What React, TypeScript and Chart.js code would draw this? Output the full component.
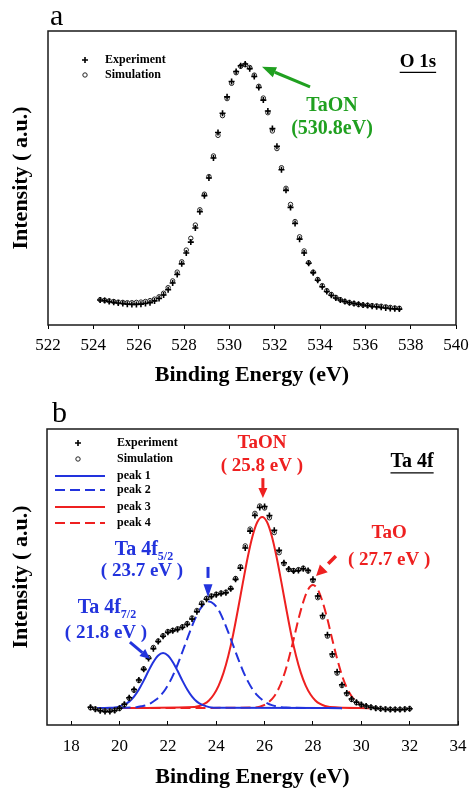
import React, { useEffect, useRef } from "react";
import { Chart, registerables } from "chart.js";

Chart.register(...registerables);

const FONT = '"Liberation Serif", "Times New Roman", serif';
Chart.defaults.font.family = FONT;

// ---------- Panel a : O 1s ----------
const xTicksA = [522, 524, 526, 528, 530, 532, 534, 536, 538, 540];
const energyA = [
  524.3, 524.5, 524.7, 524.9, 525.1, 525.3, 525.5, 525.7, 525.9, 526.1, 526.3, 526.5, 526.7, 526.9,
  527.1, 527.3, 527.5, 527.7, 527.9, 528.1, 528.3, 528.5, 528.7, 528.9, 529.1, 529.3, 529.5, 529.7,
  529.9, 530.1, 530.3, 530.5, 530.7, 530.9, 531.1, 531.3, 531.5, 531.7, 531.9, 532.1, 532.3, 532.5,
  532.7, 532.9, 533.1, 533.3, 533.5, 533.7, 533.9, 534.1, 534.3, 534.5, 534.7, 534.9, 535.1, 535.3,
  535.5, 535.7, 535.9, 536.1, 536.3, 536.5, 536.7, 536.9, 537.1, 537.3, 537.5,
];
const experimentA = [
  0.085, 0.083, 0.08, 0.077, 0.075, 0.073, 0.071, 0.07, 0.07, 0.071, 0.073, 0.076, 0.082, 0.09,
  0.102, 0.12, 0.143, 0.172, 0.208, 0.245, 0.282, 0.33, 0.385, 0.44, 0.5, 0.568, 0.655, 0.72,
  0.776, 0.828, 0.862, 0.882, 0.888, 0.872, 0.845, 0.808, 0.765, 0.728, 0.668, 0.608, 0.528, 0.458,
  0.4, 0.345, 0.292, 0.245, 0.21, 0.178, 0.152, 0.13, 0.114, 0.101, 0.092, 0.085, 0.08, 0.076,
  0.073, 0.071, 0.068, 0.066, 0.064, 0.062, 0.06, 0.058, 0.056, 0.055, 0.054,
];
const simulationA = [
  0.086, 0.084, 0.082, 0.08, 0.078, 0.077, 0.076, 0.076, 0.077, 0.078, 0.08, 0.083, 0.088, 0.096,
  0.108, 0.127, 0.15, 0.18, 0.215, 0.255, 0.295, 0.34, 0.392, 0.445, 0.505, 0.575, 0.645, 0.712,
  0.77, 0.822, 0.858, 0.88, 0.885, 0.876, 0.85, 0.812, 0.772, 0.722, 0.66, 0.6, 0.535, 0.465,
  0.41, 0.352, 0.3, 0.252, 0.212, 0.18, 0.155, 0.134, 0.117, 0.104, 0.094, 0.086, 0.08, 0.076,
  0.073, 0.07, 0.068, 0.067, 0.066, 0.065, 0.064, 0.062, 0.06, 0.058, 0.057,
];

// ---------- Panel b : Ta 4f ----------
const xTicksB = [18, 20, 22, 24, 26, 28, 30, 32, 34];
const energyB = [
  18.8, 19.0, 19.2, 19.4, 19.6, 19.8, 20.0, 20.2, 20.4, 20.6, 20.8, 21.0, 21.2, 21.4, 21.6, 21.8,
  22.0, 22.2, 22.4, 22.6, 22.8, 23.0, 23.2, 23.4, 23.6, 23.8, 24.0, 24.2, 24.4, 24.6, 24.8, 25.0,
  25.2, 25.4, 25.6, 25.8, 26.0, 26.2, 26.4, 26.6, 26.8, 27.0, 27.2, 27.4, 27.6, 27.8, 28.0, 28.2,
  28.4, 28.6, 28.8, 29.0, 29.2, 29.4, 29.6, 29.8, 30.0, 30.2, 30.4, 30.6, 30.8, 31.0, 31.2, 31.4,
  31.6, 31.8, 32.0,
];
const experimentB = [
  0.06, 0.053, 0.048, 0.046, 0.046, 0.049, 0.057, 0.07, 0.092, 0.12, 0.152, 0.188, 0.225, 0.258,
  0.282, 0.3, 0.313, 0.318, 0.323, 0.33, 0.34, 0.358, 0.383, 0.408, 0.425, 0.434, 0.44, 0.444,
  0.447, 0.46, 0.492, 0.53, 0.598, 0.655, 0.708, 0.735, 0.738, 0.708, 0.658, 0.59, 0.548, 0.527,
  0.52, 0.522, 0.528, 0.522, 0.492, 0.436, 0.37, 0.305, 0.24, 0.18, 0.136, 0.108, 0.088, 0.077,
  0.069, 0.064, 0.06, 0.057, 0.055, 0.053, 0.052, 0.052, 0.052, 0.053, 0.055,
];
const simulationB = [
  0.058, 0.054, 0.05, 0.048, 0.048, 0.05, 0.056, 0.068, 0.09, 0.117, 0.15, 0.19, 0.228, 0.262,
  0.284, 0.302, 0.316, 0.32, 0.325, 0.332, 0.343, 0.362, 0.387, 0.412, 0.428, 0.436, 0.442, 0.446,
  0.449, 0.462, 0.495, 0.535, 0.605, 0.662, 0.715, 0.74, 0.733, 0.7, 0.65, 0.582, 0.545, 0.525,
  0.522, 0.525, 0.53, 0.52, 0.488, 0.43, 0.365, 0.3, 0.235, 0.175, 0.133, 0.105, 0.086, 0.075,
  0.068, 0.063, 0.06, 0.057, 0.055, 0.054, 0.053, 0.053, 0.053, 0.054, 0.055,
];
const peak1X = [18.8, 19.6, 19.8, 20.0, 20.2, 20.4, 20.6, 20.8, 21.0, 21.2, 21.4, 21.6, 21.8, 22.0, 22.2, 22.4, 22.6, 22.8, 23.0, 23.2, 23.4, 23.6, 23.8, 24.0, 29.2];
const peak1Y = [0.057, 0.058, 0.059, 0.063, 0.069, 0.079, 0.096, 0.12, 0.15, 0.183, 0.213, 0.235, 0.243, 0.235, 0.213, 0.183, 0.15, 0.12, 0.096, 0.079, 0.069, 0.063, 0.059, 0.058, 0.057];
const peak2X = [18.8, 20.5, 20.7, 20.9, 21.1, 21.3, 21.5, 21.7, 21.9, 22.1, 22.3, 22.5, 22.7, 22.9, 23.1, 23.3, 23.5, 23.7, 23.9, 24.1, 24.3, 24.5, 24.7, 24.9, 25.1, 25.3, 25.5, 25.7, 25.9, 26.1, 26.3, 26.5, 26.7, 26.9, 29.2];
const peak2Y = [0.057, 0.059, 0.06, 0.063, 0.067, 0.074, 0.085, 0.1, 0.121, 0.149, 0.184, 0.225, 0.269, 0.313, 0.354, 0.388, 0.409, 0.417, 0.409, 0.388, 0.354, 0.313, 0.269, 0.225, 0.184, 0.149, 0.121, 0.1, 0.085, 0.074, 0.067, 0.063, 0.06, 0.059, 0.057];
const peak3X = [18.8, 23.1, 23.3, 23.5, 23.7, 23.9, 24.1, 24.3, 24.5, 24.7, 24.9, 25.1, 25.3, 25.5, 25.7, 25.9, 26.1, 26.3, 26.5, 26.7, 26.9, 27.1, 27.3, 27.5, 27.7, 27.9, 28.1, 28.3, 28.5, 28.7, 30.4];
const peak3Y = [0.057, 0.061, 0.064, 0.071, 0.083, 0.103, 0.133, 0.176, 0.234, 0.306, 0.391, 0.48, 0.566, 0.638, 0.686, 0.703, 0.686, 0.638, 0.566, 0.48, 0.391, 0.306, 0.234, 0.176, 0.133, 0.103, 0.083, 0.071, 0.064, 0.061, 0.057];
const peak4X = [18.8, 25.6, 25.8, 26.0, 26.2, 26.4, 26.6, 26.8, 27.0, 27.2, 27.4, 27.6, 27.8, 28.0, 28.2, 28.4, 28.6, 28.8, 29.0, 29.2, 29.4, 29.6, 29.8, 30.0, 30.2, 30.4];
const peak4Y = [0.057, 0.059, 0.062, 0.068, 0.079, 0.097, 0.126, 0.168, 0.224, 0.289, 0.357, 0.416, 0.458, 0.473, 0.458, 0.416, 0.357, 0.289, 0.224, 0.168, 0.126, 0.097, 0.079, 0.068, 0.062, 0.058];

const BLUE = "#2233dd";
const RED = "#ee2020";
const GREEN = "#20a020";

const pts = (xs: number[], ys: number[]) => xs.map((x, i) => ({ x, y: ys[i] }));

function drawArrow(
  ctx: CanvasRenderingContext2D, x1: number, y1: number, x2: number, y2: number,
  color: string, lw: number, headLen: number, headW: number, shaftLen?: number
) {
  const ang = Math.atan2(y2 - y1, x2 - x1);
  const bx = x2 - Math.cos(ang) * headLen;
  const by = y2 - Math.sin(ang) * headLen;
  ctx.save();
  ctx.strokeStyle = color;
  ctx.fillStyle = color;
  ctx.lineWidth = lw;
  ctx.beginPath();
  ctx.moveTo(x1, y1);
  if (shaftLen) ctx.lineTo(x1 + Math.cos(ang) * shaftLen, y1 + Math.sin(ang) * shaftLen);
  else ctx.lineTo(bx, by);
  ctx.stroke();
  ctx.beginPath();
  ctx.moveTo(x2, y2);
  ctx.lineTo(bx + (Math.sin(ang) * headW) / 2, by - (Math.cos(ang) * headW) / 2);
  ctx.lineTo(bx - (Math.sin(ang) * headW) / 2, by + (Math.cos(ang) * headW) / 2);
  ctx.closePath();
  ctx.fill();
  ctx.restore();
}

function text(ctx: CanvasRenderingContext2D, s: string, x: number, y: number, size: number, color: string, align: CanvasTextAlign = "center", bold = true) {
  ctx.save();
  ctx.font = `${bold ? "bold " : ""}${size}px ${FONT}`;
  ctx.fillStyle = color;
  ctx.textAlign = align;
  ctx.textBaseline = "middle";
  ctx.fillText(s, x, y);
  ctx.restore();
}

function textSub(ctx: CanvasRenderingContext2D, main: string, sub: string, cx: number, cy: number, size: number, color: string) {
  ctx.save();
  ctx.fillStyle = color;
  ctx.textBaseline = "middle";
  ctx.textAlign = "left";
  ctx.font = `bold ${size}px ${FONT}`;
  const w1 = ctx.measureText(main).width;
  const subSize = Math.round(size * 0.6);
  ctx.font = `bold ${subSize}px ${FONT}`;
  const w2 = ctx.measureText(sub).width;
  const x0 = cx - (w1 + w2) / 2;
  ctx.font = `bold ${size}px ${FONT}`;
  ctx.fillText(main, x0, cy);
  ctx.font = `bold ${subSize}px ${FONT}`;
  ctx.fillText(sub, x0 + w1, cy + size * 0.32);
  ctx.restore();
}

function underlined(ctx: CanvasRenderingContext2D, s: string, cx: number, cy: number, size: number) {
  ctx.save();
  ctx.font = `bold ${size}px ${FONT}`;
  const w = ctx.measureText(s).width;
  ctx.restore();
  text(ctx, s, cx, cy, size, "#000");
  ctx.save();
  ctx.strokeStyle = "#000";
  ctx.lineWidth = 1.3;
  ctx.beginPath();
  ctx.moveTo(cx - w / 2, cy + size * 0.55);
  ctx.lineTo(cx + w / 2, cy + size * 0.55);
  ctx.stroke();
  ctx.restore();
}

function markCross(ctx: CanvasRenderingContext2D, x: number, y: number) {
  ctx.save();
  ctx.strokeStyle = "#000";
  ctx.lineWidth = 1.6;
  ctx.beginPath();
  ctx.moveTo(x - 3, y); ctx.lineTo(x + 3, y);
  ctx.moveTo(x, y - 3); ctx.lineTo(x, y + 3);
  ctx.stroke();
  ctx.restore();
}
function markCircle(ctx: CanvasRenderingContext2D, x: number, y: number) {
  ctx.save();
  ctx.strokeStyle = "#222";
  ctx.fillStyle = "#fff";
  ctx.lineWidth = 1;
  ctx.beginPath();
  ctx.arc(x, y, 2.2, 0, Math.PI * 2);
  ctx.fill();
  ctx.stroke();
  ctx.restore();
}
function legendLine(ctx: CanvasRenderingContext2D, x1: number, x2: number, y: number, color: string, dash: number[]) {
  ctx.save();
  ctx.strokeStyle = color;
  ctx.lineWidth = 2;
  ctx.setLineDash(dash);
  ctx.beginPath();
  ctx.moveTo(x1, y);
  ctx.lineTo(x2, y);
  ctx.stroke();
  ctx.restore();
}

const framePlugin = {
  id: "frame",
  beforeDatasetsDraw(chart: any) {
    const { ctx, chartArea: a } = chart;
    ctx.save();
    ctx.strokeStyle = "#1a1a1a";
    ctx.lineWidth = 1.5;
    ctx.strokeRect(a.left, a.top, a.right - a.left, a.bottom - a.top);
    ctx.restore();
  },
};

const P = (chart: any, x: number, y: number) => [chart.scales.x.getPixelForValue(x), chart.scales.y.getPixelForValue(y)];

const annotA = {
  id: "annotA",
  afterDraw(chart: any) {
    const { ctx, chartArea: a } = chart;
    ctx.save();
    ctx.font = `30px ${FONT}`;
    ctx.fillStyle = "#000";
    ctx.textBaseline = "alphabetic";
    ctx.fillText("a", 50, 25);
    ctx.restore();
    markCross(ctx, a.left + 37, a.top + 29);
    markCircle(ctx, a.left + 37, a.top + 44);
    text(ctx, "Experiment", a.left + 57, a.top + 29, 12, "#000", "left");
    text(ctx, "Simulation", a.left + 57, a.top + 44, 12, "#000", "left");
    const [ox, oy] = P(chart, 538.32, 0.895);
    underlined(ctx, "O 1s", ox, oy, 19);
    const [t1x, t1y] = P(chart, 533.56, 0.81);
    const [t2x, t2y] = P(chart, 531.44, 0.878);
    drawArrow(ctx, t1x, t1y, t2x, t2y, GREEN, 3, 14, 11);
    const [gx, gy] = P(chart, 534.53, 0.745);
    const [, gy2] = P(chart, 534.53, 0.667);
    text(ctx, "TaON", gx, gy, 20, GREEN);
    text(ctx, "(530.8eV)", gx, gy2, 20, GREEN);
  },
};

const annotB = {
  id: "annotB",
  afterDraw(chart: any) {
    const { ctx, chartArea: a } = chart;
    ctx.save();
    ctx.font = `30px ${FONT}`;
    ctx.fillStyle = "#000";
    ctx.textBaseline = "alphabetic";
    ctx.fillText("b", 52, 28);
    ctx.restore();
    const L = a.left, T = a.top;
    markCross(ctx, L + 31, T + 14);
    markCircle(ctx, L + 31, T + 30);
    text(ctx, "Experiment", L + 70, T + 14, 12, "#000", "left");
    text(ctx, "Simulation", L + 70, T + 30, 12, "#000", "left");
    legendLine(ctx, L + 8, L + 58, T + 47, BLUE, []);
    legendLine(ctx, L + 8, L + 58, T + 61, BLUE, [10, 5]);
    legendLine(ctx, L + 8, L + 58, T + 78, RED, []);
    legendLine(ctx, L + 8, L + 58, T + 94, RED, [10, 5]);
    text(ctx, "peak 1", L + 70, T + 47, 12, "#000", "left");
    text(ctx, "peak 2", L + 70, T + 61, 12, "#000", "left");
    text(ctx, "peak 3", L + 70, T + 78, 12, "#000", "left");
    text(ctx, "peak 4", L + 70, T + 94, 12, "#000", "left");
    const [lx, ly] = P(chart, 32.1, 0.889);
    underlined(ctx, "Ta 4f", lx, ly, 20);
    let [x, y] = P(chart, 25.89, 0.953);
    text(ctx, "TaON", x, y, 19, RED);
    [x, y] = P(chart, 25.89, 0.875);
    text(ctx, "( 25.8 eV )", x, y, 19, RED);
    let [ax1, ay1] = P(chart, 25.93, 0.834);
    let [ax2, ay2] = P(chart, 25.93, 0.767);
    drawArrow(ctx, ax1, ay1, ax2, ay2, RED, 3, 10, 9);
    [x, y] = P(chart, 31.15, 0.649);
    text(ctx, "TaO", x, y, 19, RED);
    [x, y] = P(chart, 31.15, 0.557);
    text(ctx, "( 27.7 eV )", x, y, 19, RED);
    [ax1, ay1] = P(chart, 28.95, 0.571);
    [ax2, ay2] = P(chart, 28.13, 0.503);
    drawArrow(ctx, ax1, ay1, ax2, ay2, RED, 3.5, 11, 11, 11);
    [x, y] = P(chart, 21.01, 0.591);
    textSub(ctx, "Ta 4f", "5/2", x, y, 20, BLUE);
    [x, y] = P(chart, 20.93, 0.52);
    text(ctx, "( 23.7 eV )", x, y, 19, BLUE);
    [ax1, ay1] = P(chart, 23.66, 0.534);
    [ax2, ay2] = P(chart, 23.66, 0.432);
    drawArrow(ctx, ax1, ay1, ax2, ay2, BLUE, 3, 13, 9, 11);
    [x, y] = P(chart, 19.48, 0.395);
    textSub(ctx, "Ta 4f", "7/2", x, y, 20, BLUE);
    [x, y] = P(chart, 19.44, 0.311);
    text(ctx, "( 21.8 eV )", x, y, 19, BLUE);
    [ax1, ay1] = P(chart, 20.43, 0.28);
    [ax2, ay2] = P(chart, 21.26, 0.223);
    drawArrow(ctx, ax1, ay1, ax2, ay2, BLUE, 3, 10, 9);
  },
};

const tickFont = { family: FONT, size: 17 };
const titleFont = { family: FONT, size: 22, weight: "bold" as const, lineHeight: 1 };

function xScale(min: number, max: number, ticks: number[], height: number, tickLen: number, pad: number, titlePad: number) {
  return {
    type: "linear" as const,
    min,
    max,
    afterBuildTicks: (axis: any) => {
      axis.ticks = ticks.map((v) => ({ value: v }));
    },
    afterFit: (s: any) => {
      s.height = height;
      s.paddingLeft = 0;
      s.paddingRight = 0;
    },
    grid: { display: true, drawOnChartArea: false, drawTicks: true, tickLength: tickLen, color: "#000", lineWidth: 1 },
    border: { display: false },
    ticks: { font: tickFont, color: "#000", padding: pad, maxRotation: 0, autoSkip: false },
    title: { display: true, text: "Binding Energy (eV)", font: titleFont, color: "#000", padding: { top: 0, bottom: titlePad } },
  };
}
function yScale(width: number) {
  return {
    type: "linear" as const,
    min: 0,
    max: 1,
    afterFit: (s: any) => {
      s.width = width;
      s.paddingTop = 0;
      s.paddingBottom = 0;
    },
    ticks: { display: false },
    grid: { display: false },
    border: { display: false },
    title: { display: true, text: "Intensity ( a.u.)", font: titleFont, color: "#000", padding: { top: 10, bottom: 0 } },
  };
}

const expStyle = { pointStyle: "cross", pointRadius: 3, borderColor: "#000", backgroundColor: "#000", borderWidth: 1.6, order: 0 };
const simStyle = { pointStyle: "circle", pointRadius: 2.2, borderColor: "#222", backgroundColor: "#fff", borderWidth: 1, order: 1 };
const lineStyle = (color: string, dash: number[]) => ({
  type: "line" as const,
  borderColor: color,
  borderWidth: 2,
  borderDash: dash,
  pointRadius: 0,
  fill: false,
  cubicInterpolationMode: "monotone" as const,
  order: 2,
});

export default function App() {
  const refA = useRef<HTMLCanvasElement>(null);
  const refB = useRef<HTMLCanvasElement>(null);

  useEffect(() => {
    const common = {
      responsive: false,
      animation: false as const,
      devicePixelRatio: 1,
      events: [] as any[],
      plugins: { legend: { display: false }, tooltip: { enabled: false } },
    };
    const chartA = new Chart(refA.current as HTMLCanvasElement, {
      type: "scatter",
      data: {
        datasets: [
          { label: "Experiment", data: pts(energyA, experimentA), ...expStyle } as any,
          { label: "Simulation", data: pts(energyA, simulationA), ...simStyle } as any,
        ],
      },
      options: {
        ...common,
        layout: { padding: { top: 31, right: 14, left: 0, bottom: 0 } },
        scales: { x: xScale(522, 540, xTicksA, 69, 4, 6, 8) as any, y: yScale(48) as any },
      } as any,
      plugins: [framePlugin, annotA],
    });
    const chartB = new Chart(refB.current as HTMLCanvasElement, {
      type: "scatter",
      data: {
        datasets: [
          { label: "Experiment", data: pts(energyB, experimentB), ...expStyle } as any,
          { label: "Simulation", data: pts(energyB, simulationB), ...simStyle } as any,
          { label: "peak 1", data: pts(peak1X, peak1Y), ...lineStyle(BLUE, []) } as any,
          { label: "peak 2", data: pts(peak2X, peak2Y), ...lineStyle(BLUE, [10, 5]) } as any,
          { label: "peak 3", data: pts(peak3X, peak3Y), ...lineStyle(RED, []) } as any,
          { label: "peak 4", data: pts(peak4X, peak4Y), ...lineStyle(RED, [10, 5]) } as any,
        ],
      },
      options: {
        ...common,
        layout: { padding: { top: 35, right: 12, left: 0, bottom: 0 } },
        scales: { x: xScale(17, 34, xTicksB, 63, -4, 15, 0) as any, y: yScale(47) as any },
      } as any,
      plugins: [framePlugin, annotB],
    });
    return () => {
      chartA.destroy();
      chartB.destroy();
    };
  }, []);

  return (
    <div style={{ position: "fixed", left: 0, top: 0, width: 470, height: 788, background: "#fff" }}>
      <canvas ref={refA} width={470} height={394} style={{ display: "block", width: 470, height: 394 }} />
      <canvas ref={refB} width={470} height={394} style={{ display: "block", width: 470, height: 394 }} />
    </div>
  );
}
